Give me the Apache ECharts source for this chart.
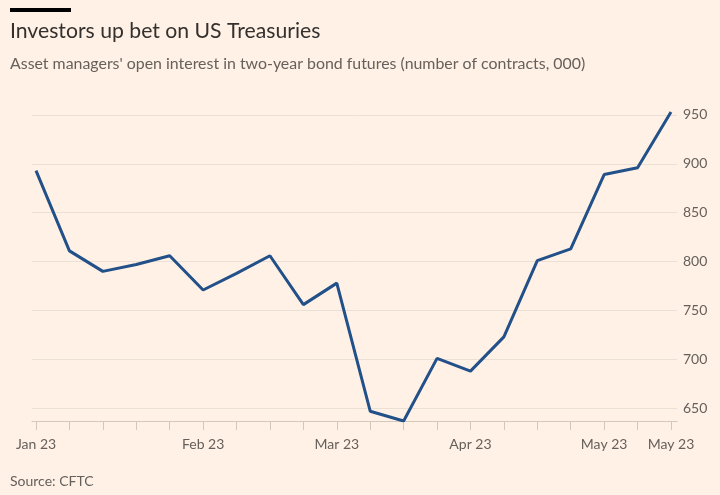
<!DOCTYPE html>
<html><head><meta charset="utf-8">
<script src="https://cdn.jsdelivr.net/npm/echarts@6/dist/echarts.min.js"></script>
<style>html,body{margin:0;padding:0;background:#fff1e5}#c{width:720px;height:495px}</style>
</head><body><div id="c"></div>
<script>
const weeks = ['Jan 3','Jan 10','Jan 17','Jan 24','Jan 31','Feb 7','Feb 14','Feb 21','Feb 28','Mar 7','Mar 14','Mar 21','Mar 28','Apr 4','Apr 11','Apr 18','Apr 25','May 2','May 9','May 16'];
const openInterest = [893, 811, 790, 797, 806, 771, 788, 806, 756, 778, 647, 637, 701, 688, 723, 801, 813, 889, 896, 953];
const xTickLabels = {0:'Jan 23', 5:'Feb 23', 9:'Mar 23', 13:'Apr 23', 17:'May 23', 19:'May 23'};
const yTicks = [650, 700, 750, 800, 850, 900, 950];
const FONT = 'Lato';

const chart = echarts.init(document.getElementById('c'));
chart.setOption({
  backgroundColor: '#fff1e5',
  animation: false,
  textStyle: {fontFamily: FONT},
  title: [
    {text: 'Investors up bet on US Treasuries', left: 10, top: 21, padding: 0,
     textStyle: {fontFamily: FONT, fontSize: 21.2, fontWeight: 'normal', color: '#33302e'}},
    {text: "Asset managers' open interest in two-year bond futures (number of contracts, 000)", left: 10, top: 56, padding: 0,
     textStyle: {fontFamily: FONT, fontSize: 15.9, fontWeight: 'normal', color: '#66605c'}},
    {text: 'Source: CFTC', left: 10, top: 474, padding: 0,
     textStyle: {fontFamily: FONT, fontSize: 14, fontWeight: 'normal', color: '#66605c'}}
  ],
  graphic: [{type: 'rect', shape: {x: 10, y: 8, width: 61, height: 4}, style: {fill: '#000'}}],
  grid: {left: 32, right: 43, top: 112, bottom: 74},
  xAxis: {
    type: 'value', min: -0.12, max: 19.18,
    axisLine: {show: true, lineStyle: {color: '#d4c8bd', width: 1}},
    axisTick: {show: true, length: 9, lineStyle: {color: '#d4c8bd'}, customValues: weeks.map((w, i) => i)},
    axisLabel: {customValues: Object.keys(xTickLabels).map(Number), formatter: v => xTickLabels[v] || '',
      color: '#66605c', fontSize: 14, margin: 16, fontFamily: FONT, hideOverlap: false},
    splitLine: {show: false}
  },
  yAxis: {
    type: 'value', position: 'right', min: 637, max: 953, scale: true,
    axisLine: {show: false},
    axisTick: {show: false, customValues: yTicks},
    axisLabel: {customValues: yTicks, color: '#66605c', fontSize: 14, margin: 6, fontFamily: FONT},
    splitLine: {show: true, lineStyle: {color: '#ebe0d6', width: 1}}
  },
  series: [{
    type: 'line', data: openInterest.map((v, i) => [i, v]), symbol: 'none',
    lineStyle: {color: '#225089', width: 3}
  }]
});
</script></body></html>
